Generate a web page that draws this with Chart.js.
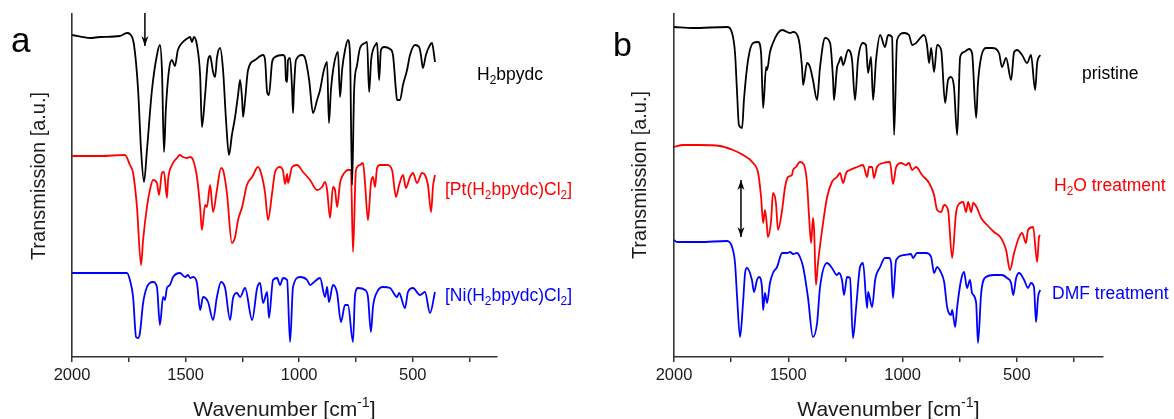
<!DOCTYPE html>
<html>
<head>
<meta charset="utf-8">
<script src="https://cdn.jsdelivr.net/npm/chart.js@4.4.1/dist/chart.umd.min.js"></script>
<style>
  html, body { margin: 0; padding: 0; background: #fff; }
  #wrap { display: flex; width: 1174px; height: 419px; }
  canvas { display: block; }
</style>
</head>
<body>
<div id="wrap">
  <canvas id="chartA" width="587" height="419"></canvas>
  <canvas id="chartB" width="587" height="419"></canvas>
</div>
<script>
// x axis ticks (wavenumber, cm-1), labels only every 500
const tickValues = [2000, 1750, 1500, 1250, 1000, 750, 500, 250];
const tickLabels = ['2000', '', '1500', '', '1000', '', '500', ''];

// panel a: [wavenumber, transmission (stacked, a.u.)]
const h2bpydc = [
  [2000,322],[1921,319],[1877,320],[1789,321],[1758,324],[1745,323],[1727,312],[1709,267],[1696,207],[1683,175],
  [1670,207],[1648,267],[1626,302],[1613,312],[1604,287],[1595,205],[1587,247],[1573,287],[1560,297],[1547,291],
  [1534,307],[1516,314],[1489,319],[1480,320],[1472,315],[1463,320],[1450,312],[1436,282],[1428,230],[1414,262],
  [1401,297],[1392,301],[1384,292],[1379,285],[1370,280],[1362,299],[1348,309],[1335,287],[1322,237],[1309,202],
  [1296,222],[1282,240],[1269,262],[1260,277],[1251,257],[1247,240],[1238,257],[1225,287],[1194,297],[1159,302],
  [1150,297],[1141,265],[1133,262],[1119,295],[1106,300],[1071,302],[1062,299],[1058,277],[1053,275],[1049,297],
  [1040,299],[1031,267],[1027,244],[1023,267],[1014,297],[987,302],[974,299],[956,277],[939,244],[921,257],
  [908,267],[891,287],[877,295],[869,234],[860,267],[847,292],[829,305],[820,260],[811,287],[798,307],
  [785,317],[776,302],[767,172],[758,267],[745,292],[732,309],[710,314],[701,315],[692,265],[683,297],
  [675,307],[662,313],[657,314],[648,277],[640,307],[626,310],[600,308],[587,302],[574,267],[569,257],
  [556,257],[543,272],[525,287],[512,302],[490,312],[472,310],[464,302],[455,289],[442,302],[424,312],
  [415,314],[406,302],[402,295]
];
const ptComplex = [
  [2000,201],[1877,201],[1767,202],[1745,192],[1731,184],[1714,150],[1696,92],[1687,117],[1670,150],[1657,167],
  [1643,177],[1626,174],[1617,162],[1604,184],[1595,185],[1582,159],[1577,177],[1560,192],[1538,199],[1525,202],
  [1511,200],[1494,199],[1480,200],[1467,197],[1450,180],[1436,150],[1428,127],[1414,152],[1406,150],[1392,172],
  [1379,145],[1362,167],[1344,189],[1335,187],[1318,164],[1296,114],[1282,120],[1269,137],[1251,150],[1230,172],
  [1207,180],[1181,190],[1163,180],[1150,164],[1137,137],[1119,164],[1106,185],[1084,190],[1071,186],[1062,173],
  [1053,183],[1049,174],[1031,190],[1009,192],[983,185],[952,177],[921,167],[899,170],[886,175],[877,167],
  [864,139],[851,170],[842,167],[833,150],[820,174],[807,182],[798,185],[785,187],[772,187],[763,105],
  [750,187],[732,192],[719,194],[710,174],[697,137],[684,174],[675,180],[666,170],[657,189],[644,192],
  [613,192],[591,187],[574,160],[560,172],[543,182],[530,169],[512,180],[499,184],[481,174],[459,184],
  [446,182],[433,172],[419,145],[411,170],[402,182]
];
const niComplex = [
  [2000,84],[1758,84],[1745,77],[1731,60],[1718,20],[1709,19],[1701,24],[1687,54],[1670,70],[1643,75],
  [1626,70],[1613,32],[1599,60],[1591,57],[1582,69],[1569,72],[1555,80],[1525,84],[1502,80],[1489,82],
  [1480,79],[1467,80],[1450,74],[1436,47],[1423,60],[1401,55],[1379,37],[1362,60],[1344,75],[1326,69],
  [1304,37],[1291,59],[1274,64],[1260,60],[1238,69],[1207,37],[1185,69],[1172,74],[1159,54],[1141,65],
  [1133,39],[1115,77],[1097,79],[1084,72],[1071,79],[1053,77],[1040,15],[1027,70],[996,80],[965,77],
  [952,72],[939,74],[908,79],[886,60],[877,70],[869,55],[851,72],[833,64],[816,35],[798,52],
  [785,52],[763,15],[754,62],[741,69],[710,67],[697,60],[684,25],[675,50],[657,65],[631,70],
  [600,69],[569,60],[560,64],[534,49],[521,65],[499,69],[468,62],[446,65],[424,44],[402,65]
];

// panel b
const pristine = [
  [2000,330],[1917,329],[1768,330],[1746,324],[1733,304],[1724,264],[1716,232],[1702,229],[1694,257],[1676,297],
  [1654,314],[1632,315],[1619,304],[1610,249],[1597,290],[1593,287],[1580,305],[1567,314],[1545,324],[1527,327],
  [1505,325],[1492,324],[1479,325],[1457,320],[1440,290],[1435,272],[1418,294],[1405,290],[1392,277],[1374,257],
  [1361,290],[1339,319],[1317,314],[1304,277],[1300,257],[1287,289],[1278,295],[1269,300],[1260,292],[1238,307],
  [1221,297],[1208,257],[1195,297],[1173,314],[1160,312],[1151,284],[1138,300],[1129,257],[1116,297],[1098,322],
  [1077,310],[1063,322],[1046,320],[1037,222],[1024,317],[993,324],[972,322],[958,312],[941,314],[906,322],
  [893,312],[884,294],[875,309],[862,285],[849,312],[831,307],[814,254],[801,277],[788,280],[775,270],
  [761,222],[748,300],[731,305],[709,308],[696,304],[678,239],[670,274],[656,300],[635,309],[608,309],
  [578,304],[565,290],[547,299],[525,277],[512,305],[499,307],[477,302],[455,294],[438,302],[420,267],
  [411,294],[398,302]
];
const h2oTreated = [
  [2000,210],[1961,212],[1886,212],[1799,211],[1742,207],[1698,202],[1654,194],[1632,184],[1619,160],[1610,134],
  [1602,147],[1593,130],[1589,120],[1575,137],[1567,164],[1554,154],[1545,127],[1527,147],[1514,170],[1501,180],
  [1484,182],[1479,187],[1466,190],[1449,195],[1431,192],[1418,174],[1409,140],[1400,114],[1392,139],[1387,127],
  [1379,72],[1370,94],[1352,127],[1330,160],[1309,175],[1287,180],[1274,184],[1260,174],[1247,184],[1230,187],
  [1199,190],[1173,192],[1155,180],[1147,190],[1133,190],[1125,179],[1112,190],[1085,194],[1055,195],[1042,173],
  [1028,190],[1007,194],[985,192],[972,194],[958,187],[941,190],[915,182],[884,174],[862,162],[849,147],
  [831,145],[818,152],[801,147],[783,99],[766,144],[748,154],[735,155],[722,145],[713,155],[700,145],
  [691,154],[674,149],[656,139],[630,132],[600,125],[569,119],[547,107],[530,87],[512,104],[490,120],
  [477,124],[460,114],[451,127],[429,130],[411,95],[403,120],[398,122]
];
const dmfTreated = [
  [2000,117],[1987,115],[1886,115],[1768,116],[1746,110],[1733,94],[1724,60],[1711,20],[1698,54],[1689,84],
  [1681,89],[1659,77],[1650,65],[1637,77],[1628,80],[1615,70],[1610,47],[1602,64],[1593,54],[1580,74],
  [1567,84],[1549,90],[1527,104],[1505,104],[1492,105],[1479,103],[1462,104],[1449,100],[1435,90],[1414,60],
  [1392,20],[1374,34],[1361,70],[1330,94],[1309,89],[1287,82],[1278,84],[1265,77],[1256,62],[1243,80],
  [1230,79],[1217,19],[1203,50],[1186,90],[1173,94],[1155,49],[1151,65],[1133,50],[1120,77],[1098,90],
  [1077,99],[1059,99],[1050,94],[1042,59],[1028,97],[993,102],[963,103],[954,99],[937,104],[897,104],
  [875,100],[862,84],[849,90],[831,84],[818,75],[805,50],[788,42],[783,47],[770,30],[761,50],
  [744,77],[731,85],[718,69],[705,77],[696,64],[678,54],[670,14],[656,64],[635,80],[600,82],
  [565,82],[543,79],[525,74],[516,62],[503,79],[490,84],[468,77],[451,69],[438,74],[425,70],
  [416,35],[407,60],[398,67]
];

// arrows: [wavenumber, from, to]
const arrowA = [1679, 344, 311];
const arrowB = [1707, 177, 120];

const FONT = '"Liberation Sans", Arial, sans-serif';

// draw text with sub/superscript pieces, parts = [[text, 0 normal | 1 sub | 2 sup], ...]
function drawRich(ctx, parts, x, y, size, color) {
  ctx.save();
  ctx.fillStyle = color;
  ctx.textBaseline = 'alphabetic';
  ctx.textAlign = 'left';
  let cx = x;
  parts.forEach(([t, kind]) => {
    const s = kind ? size * 0.68 : size;
    ctx.font = s + 'px ' + FONT;
    const dy = kind === 1 ? size * 0.22 : (kind === 2 ? -size * 0.42 : 0);
    ctx.fillText(t, cx, y + dy);
    cx += ctx.measureText(t).width;
  });
  ctx.restore();
  return cx - x;
}
function richWidth(ctx, parts, size) {
  let w = 0;
  parts.forEach(([t, kind]) => {
    ctx.font = (kind ? size * 0.68 : size) + 'px ' + FONT;
    w += ctx.measureText(t).width;
  });
  return w;
}

function drawArrow(ctx, x, y1, y2, both) {
  ctx.save();
  ctx.strokeStyle = '#000';
  ctx.fillStyle = '#000';
  ctx.lineWidth = 1.5;
  ctx.beginPath();
  ctx.moveTo(x, y1);
  ctx.lineTo(x, y2);
  ctx.stroke();
  const head = (tipY, dir) => {
    ctx.beginPath();
    ctx.moveTo(x, tipY);
    ctx.lineTo(x - 3.5, tipY - dir * 10);
    ctx.lineTo(x, tipY - dir * 7);
    ctx.lineTo(x + 3.5, tipY - dir * 10);
    ctx.closePath();
    ctx.fill();
  };
  head(y2, y2 > y1 ? 1 : -1);
  if (both) head(y1, y1 > y2 ? 1 : -1);
  ctx.restore();
}

const decorations = {
  id: 'decorations',
  afterDraw(chart) {
    const o = chart.options.plugins.decorations;
    const ctx = chart.ctx;
    const area = chart.chartArea;
    const xs = chart.scales.x, ys = chart.scales.y;
    // panel letter
    ctx.save();
    ctx.fillStyle = '#000';
    ctx.font = o.letterSize + 'px ' + FONT;
    ctx.fillText(o.letter, o.letterX, o.letterY);
    ctx.restore();
    // y title (rotated)
    const yParts = [['Transmission [a.u.]', 0]];
    ctx.save();
    ctx.translate(o.yTitleX, o.yTitleY);
    ctx.rotate(-Math.PI / 2);
    const yw = richWidth(ctx, yParts, 20);
    drawRich(ctx, yParts, -yw / 2, 0, 20, '#1a1a1a');
    ctx.restore();
    // x title
    const xParts = [['Wavenumber [cm', 0], ['-1', 2], [']', 0]];
    const xw = richWidth(ctx, xParts, 21);
    drawRich(ctx, xParts, (area.left + area.right) / 2 - xw / 2, 416, 21, '#1a1a1a');
    // series labels
    o.labels.forEach(l => drawRich(ctx, l.parts, l.x, l.y, 17.5, l.color));
    // arrow
    const a = o.arrow;
    drawArrow(ctx, xs.getPixelForValue(a[0]), ys.getPixelForValue(a[1]), ys.getPixelForValue(a[2]), o.doubleArrow);
  }
};

function series(points, color) {
  return {
    data: points.map(p => ({x: p[0], y: p[1]})),
    borderColor: color,
    borderWidth: 1.8,
    pointRadius: 0,
    cubicInterpolationMode: 'monotone',
    fill: false
  };
}

function makeChart(id, datasets, xMin, yAxisWidth, padRight, deco) {
  return new Chart(document.getElementById(id), {
    type: 'line',
    data: { datasets: datasets },
    options: {
      responsive: false,
      animation: false,
      layout: { padding: { left: 0, top: 14, right: padRight, bottom: 0 } },
      scales: {
        x: {
          type: 'linear',
          reverse: true,
          min: xMin,
          max: 2000,
          afterBuildTicks: s => { s.ticks = tickValues.map(v => ({ value: v })); },
          afterFit: s => { s.height = 62; },
          ticks: {
            autoSkip: false,
            maxRotation: 0,
            padding: 4,
            color: '#1a1a1a',
            font: { family: FONT, size: 16.5 },
            callback: v => tickLabels[tickValues.indexOf(v)] || ''
          },
          grid: { drawOnChartArea: false, tickLength: 5, color: '#333', lineWidth: 1.5 },
          border: { color: '#333', width: 1.6 }
        },
        y: {
          min: 0,
          max: 343,
          afterFit: s => { s.width = yAxisWidth; },
          ticks: { display: false },
          grid: { display: false },
          border: { display: true, color: '#333', width: 1.6 }
        }
      },
      plugins: {
        legend: { display: false },
        tooltip: { enabled: false },
        decorations: deco
      }
    },
    plugins: [decorations]
  });
}

makeChart('chartA', [
  series(h2bpydc, '#000000'),
  series(ptComplex, '#ff0000'),
  series(niComplex, '#0000ff')
], 129, 72, 90, {
  letter: 'a', letterX: 11, letterY: 52, letterSize: 35,
  yTitleX: 45, yTitleY: 176,
  arrow: arrowA, doubleArrow: false,
  labels: [
    { x: 477, y: 80, color: '#000000', parts: [['H', 0], ['2', 1], ['bpydc', 0]] },
    { x: 445, y: 195, color: '#ff0000', parts: [['[Pt(H', 0], ['2', 1], ['bpydc)Cl', 0], ['2', 1], [']', 0]] },
    { x: 445, y: 301, color: '#0000ff', parts: [['[Ni(H', 0], ['2', 1], ['bpydc)Cl', 0], ['2', 1], [']', 0]] }
  ]
});

makeChart('chartB', [
  series(pristine, '#000000'),
  series(h2oTreated, '#ff0000'),
  series(dmfTreated, '#0000ff')
], 123, 87, 71, {
  letter: 'b', letterX: 26, letterY: 56, letterSize: 34,
  yTitleX: 59, yTitleY: 175,
  arrow: arrowB, doubleArrow: true,
  labels: [
    { x: 495, y: 79, color: '#000000', parts: [['pristine', 0]] },
    { x: 467, y: 191, color: '#ff0000', parts: [['H', 0], ['2', 1], ['O treatment', 0]] },
    { x: 465, y: 299, color: '#0000ff', parts: [['DMF treatment', 0]] }
  ]
});
</script>
</body>
</html>
